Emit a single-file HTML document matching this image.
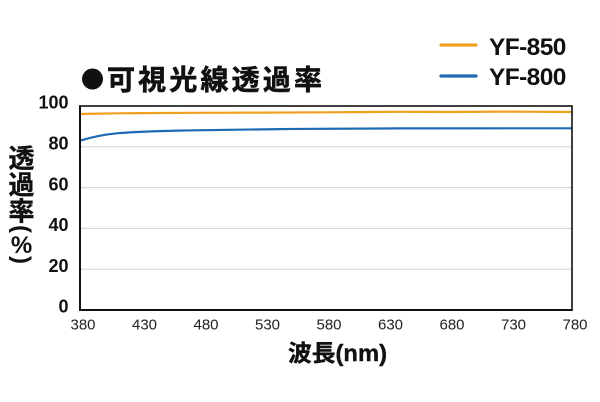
<!DOCTYPE html>
<html>
<head>
<meta charset="utf-8">
<style>
  html,body{margin:0;padding:0;background:#fff;}
  body{width:600px;height:402px;overflow:hidden;}
  svg{display:block;}
  .cjk{font-family:"Liberation Sans","Noto Sans CJK JP",sans-serif;font-weight:700;fill:#111;}
  .num{font-family:"Liberation Sans",sans-serif;}
</style>
</head>
<body>
<svg width="600" height="402" viewBox="0 0 600 402" xmlns="http://www.w3.org/2000/svg">
  <!-- Title -->
  <circle cx="92.5" cy="79" r="10.5" fill="#111"/>
  <text class="cjk" x="107" y="89.5" font-size="28" stroke="#111" stroke-width="0.6" textLength="215" lengthAdjust="spacing">可視光線透過率</text>

  <!-- Legend -->
  <line x1="441" y1="45" x2="476" y2="45" stroke="#F0A020" stroke-width="3.2" stroke-linecap="round"/>
  <line x1="441" y1="76" x2="476" y2="76" stroke="#1F6AB4" stroke-width="3.2" stroke-linecap="round"/>
  <text class="num" x="489" y="55" font-size="24.5" font-weight="700" fill="#111" letter-spacing="-0.6">YF-850</text>
  <text class="num" x="489" y="85" font-size="24.5" font-weight="700" fill="#111" letter-spacing="-0.6">YF-800</text>

  <!-- Gridlines -->
  <g stroke="#d6d6d6" stroke-width="1.2">
    <line x1="80" y1="146.8" x2="572" y2="146.8"/>
    <line x1="80" y1="187.6" x2="572" y2="187.6"/>
    <line x1="80" y1="228.4" x2="572" y2="228.4"/>
    <line x1="80" y1="269.2" x2="572" y2="269.2"/>
  </g>

  <!-- Series -->
  <path d="M80,114 L100,113.6 L120,113.3 L160,113 L200,112.8 L260,112.6 L328,112.3 L370,112 L400,111.8 L450,112 L500,111.6 L540,111.8 L572,112"
        fill="none" stroke="#F0A020" stroke-width="2.2" stroke-linejoin="round"/>
  <path d="M80,140.7 C92,137 104,134.5 118,133.2 C135,131.8 150,131.3 178,130.6 C205,130.1 228,129.7 280,129.1 C310,128.8 328,128.7 400,128.4 L572,128.3"
        fill="none" stroke="#1F6AB4" stroke-width="2.2" stroke-linejoin="round"/>

  <!-- Plot frame -->
  <rect x="80" y="106" width="492" height="204" fill="none" stroke="#111" stroke-width="1.6"/>
  <line x1="80" y1="310" x2="572.8" y2="310" stroke="#111" stroke-width="2"/>
  <line x1="80" y1="105.2" x2="80" y2="311" stroke="#111" stroke-width="2"/>

  <!-- Y tick labels -->
  <g class="num" font-size="18" font-weight="700" fill="#111" text-anchor="end">
    <text x="68.5" y="108.7">100</text>
    <text x="68.5" y="149.5">80</text>
    <text x="68.5" y="190.3">60</text>
    <text x="68.5" y="231.1">40</text>
    <text x="68.5" y="271.9">20</text>
    <text x="68.5" y="312.5">0</text>
  </g>

  <!-- X tick labels -->
  <g class="num" font-size="15" fill="#222" text-anchor="middle">
    <text x="83" y="329.5">380</text>
    <text x="144.5" y="329.5">430</text>
    <text x="206" y="329.5">480</text>
    <text x="267.5" y="329.5">530</text>
    <text x="329" y="329.5">580</text>
    <text x="390.5" y="329.5">630</text>
    <text x="452" y="329.5">680</text>
    <text x="513.5" y="329.5">730</text>
    <text x="575" y="329.5">780</text>
  </g>

  <!-- X axis title -->
  <text class="cjk" x="288" y="361" font-size="23" stroke="#111" stroke-width="0.4" textLength="99" lengthAdjust="spacingAndGlyphs">波長(nm)</text>

  <!-- Y axis title (vertical) -->
  <g class="cjk" font-size="26" text-anchor="middle" stroke="#111" stroke-width="0.4">
    <text x="21.5" y="167.5">透</text>
    <text x="21.5" y="194">過</text>
    <text x="21.5" y="220.5">率</text>
  </g>
  <text class="num" font-size="24" font-weight="700" fill="#111" text-anchor="middle" dominant-baseline="central" transform="translate(21.5,229) rotate(90)">(</text>
  <text class="num" x="21.5" y="253" font-size="24" font-weight="700" fill="#111" text-anchor="middle">%</text>
  <text class="num" font-size="24" font-weight="700" fill="#111" text-anchor="middle" dominant-baseline="central" transform="translate(21.5,260) rotate(90)">)</text>
</svg>
</body>
</html>
